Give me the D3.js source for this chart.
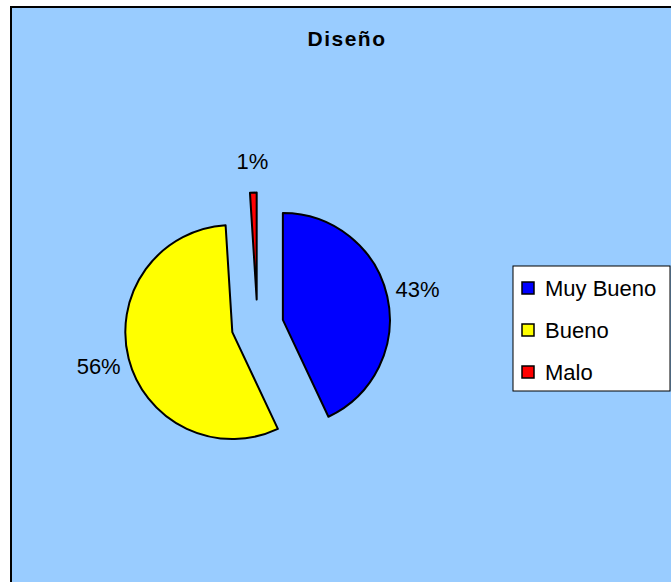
<!DOCTYPE html>
<html>
<head>
<meta charset="utf-8">
<script src="https://cdn.jsdelivr.net/npm/d3@7"></script>
<style>
  body { margin: 0; background: #fff; }
  svg { display: block; font-family: "Liberation Sans", Arial, sans-serif; }
</style>
</head>
<body>
<div id="chart"></div>
<script>
// data
var categories = ["Muy Bueno", "Bueno", "Malo"];
var values = [43, 56, 1];
var colors = ["#0000FF", "#FFFF00", "#FF0000"];
var title = "Diseño";

var svgWidth = 671;
var svgHeight = 582;

var svg = d3.select("#chart")
  .append("svg")
  .attr("width", svgWidth)
  .attr("height", svgHeight);

// chart area background with border
svg.append("rect")
  .attr("x", 11)
  .attr("y", 7)
  .attr("width", svgWidth + 20)
  .attr("height", svgHeight + 20)
  .attr("fill", "#99CCFF")
  .attr("stroke", "#000")
  .attr("stroke-width", 2);

svg.append("text")
  .attr("x", 347)
  .attr("y", 46)
  .attr("text-anchor", "middle")
  .attr("font-size", "21px")
  .attr("font-weight", "bold")
  .attr("letter-spacing", "1.5px")
  .text(title);

// pie
var cx = 257.5, cy = 325.6;
var radius = 107;
var explode = 26;
var labelRadius = 164;
var total = d3.sum(values);

var pie = d3.pie().sort(null).value(d => d);
var arc = d3.arc().innerRadius(0).outerRadius(radius);
var slices = pie(values);

var pieGroup = svg.append("g")
  .attr("transform", `translate(${cx}, ${cy})`);

function dir(d) {
  var a = (d.startAngle + d.endAngle) / 2;
  return [Math.sin(a), -Math.cos(a)];
}

pieGroup.selectAll("path")
  .data(slices)
  .enter()
  .append("path")
  .attr("transform", d => {
    var v = dir(d);
    return `translate(${v[0] * explode}, ${v[1] * explode})`;
  })
  .attr("d", arc)
  .attr("fill", (d, i) => colors[i])
  .attr("stroke", "#000")
  .attr("stroke-width", 2)
  .attr("stroke-linejoin", "round");

pieGroup.selectAll("text")
  .data(slices)
  .enter()
  .append("text")
  .attr("x", d => dir(d)[0] * labelRadius)
  .attr("y", d => dir(d)[1] * labelRadius)
  .attr("text-anchor", "middle")
  .attr("dominant-baseline", "central")
  .attr("font-size", "22px")
  .attr("fill", "#000")
  .text(d => Math.round(d.value / total * 100) + "%");

// legend
var legend = svg.append("g")
  .attr("transform", "translate(513, 266)");

legend.append("rect")
  .attr("x", 0)
  .attr("y", 0)
  .attr("width", 157)
  .attr("height", 125)
  .attr("fill", "#fff")
  .attr("stroke", "#000")
  .attr("stroke-width", 1);

var items = legend.selectAll("g.item")
  .data(categories)
  .enter()
  .append("g")
  .attr("class", "item")
  .attr("transform", (d, i) => `translate(0, ${22 + i * 42})`);

items.append("rect")
  .attr("x", 9)
  .attr("y", -6)
  .attr("width", 12)
  .attr("height", 12)
  .attr("fill", (d, i) => colors[i])
  .attr("stroke", "#000")
  .attr("stroke-width", 1.5);

items.append("text")
  .attr("x", 32)
  .attr("y", 0)
  .attr("dominant-baseline", "central")
  .attr("font-size", "22px")
  .attr("fill", "#000")
  .text(d => d);
</script>
</body>
</html>
